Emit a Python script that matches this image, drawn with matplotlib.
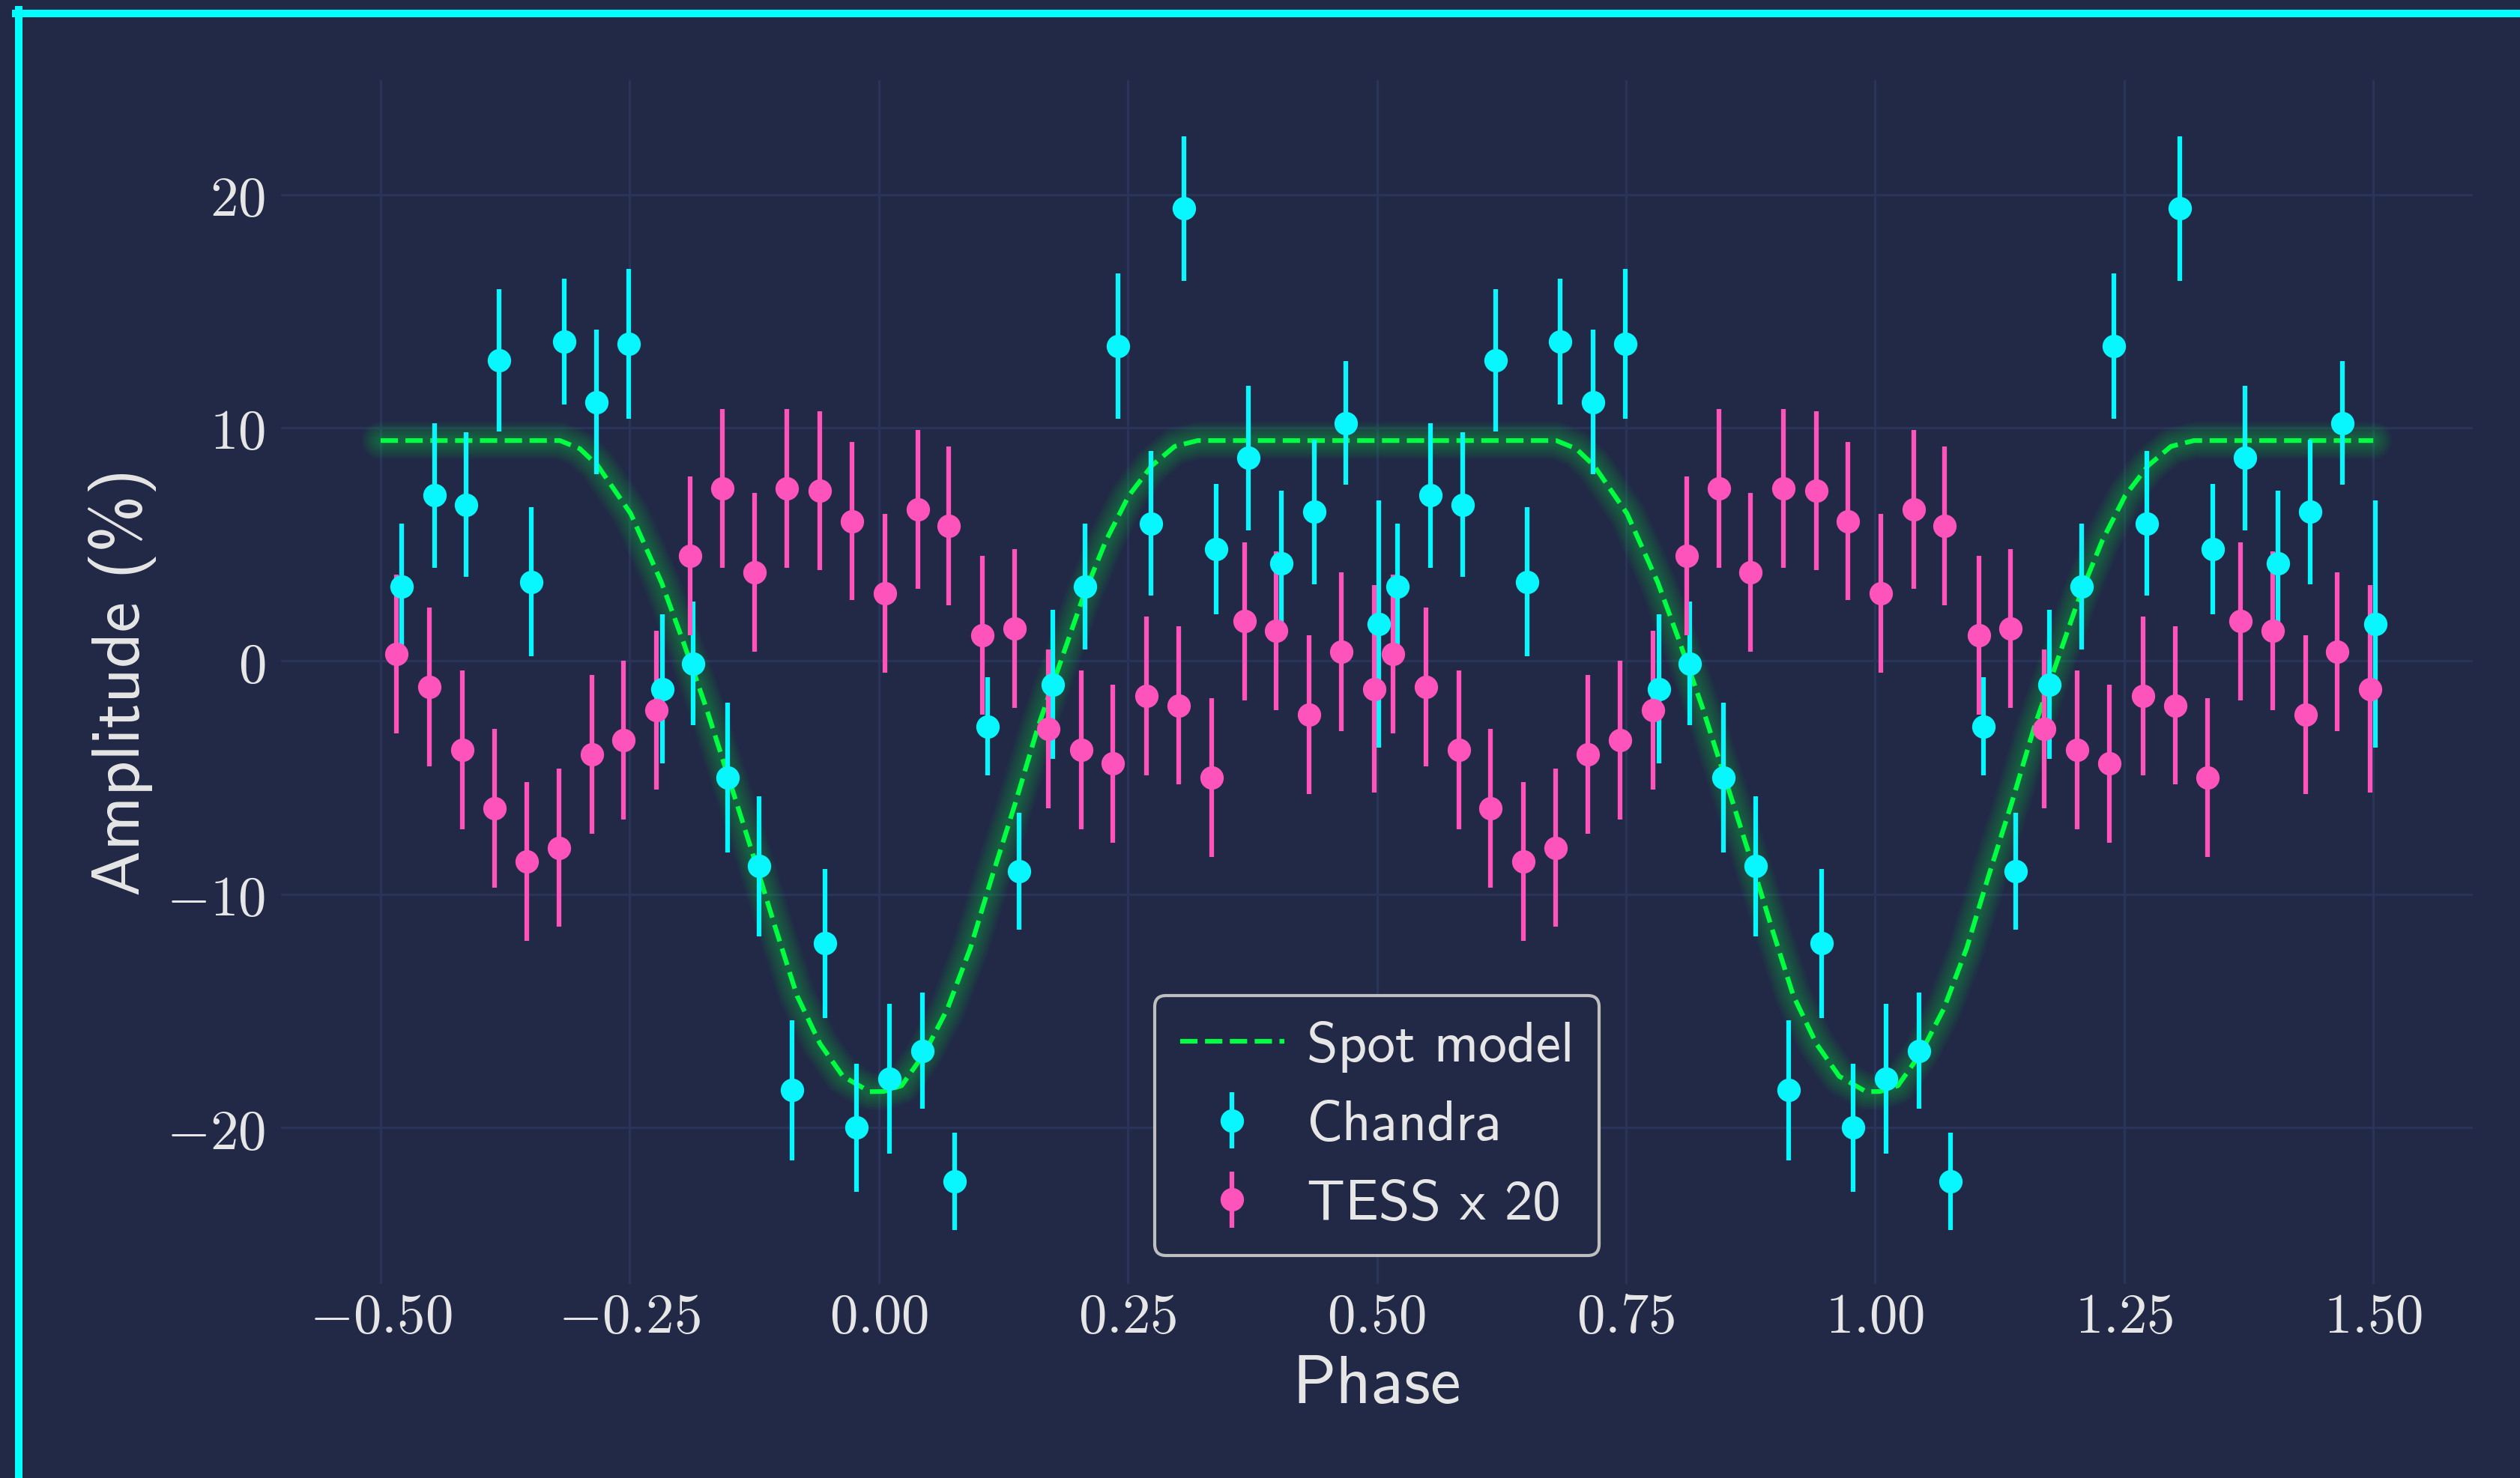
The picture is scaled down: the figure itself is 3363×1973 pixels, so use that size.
import numpy as np
import matplotlib
matplotlib.use('Agg')
import matplotlib.pyplot as plt
from matplotlib.lines import Line2D
from matplotlib.ticker import FixedLocator, FuncFormatter

# ─── data (one rotation, phase -0.5 .. 0.5; drawn twice, shifted by +1) ───

chandra_phase = [-0.479, -0.446, -0.414, -0.381, -0.349, -0.316, -0.283, -0.251,
                 -0.217, -0.186, -0.152, -0.120, -0.087, -0.054, -0.022, 0.011,
                 0.044, 0.076, 0.109, 0.141, 0.175, 0.207, 0.240, 0.273, 0.306,
                 0.339, 0.371, 0.404, 0.437, 0.469, 0.502]
chandra_amp = [3.2, 7.1, 6.7, 12.9, 3.4, 13.7, 11.1, 13.6,
               -1.2, -0.1, -5.0, -8.8, -18.4, -12.1, -20.0, -17.9,
               -16.7, -22.3, -2.8, -9.0, -1.0, 3.2, 13.5, 5.9, 19.4,
               4.8, 8.7, 4.2, 6.4, 10.2, 1.6]
chandra_err = [2.7, 3.1, 3.1, 3.05, 3.2, 2.7, 3.1, 3.2,
               3.2, 2.65, 3.2, 3.0, 3.0, 3.2, 2.75, 3.2,
               2.5, 2.1, 2.1, 2.5, 3.2, 2.7, 3.1, 3.1, 3.1,
               2.8, 3.1, 3.1, 3.1, 2.65, 5.3]

tess_phase = [-0.484, -0.451, -0.418, -0.386, -0.353, -0.321, -0.288, -0.256,
              -0.223, -0.189, -0.157, -0.125, -0.092, -0.059, -0.027, 0.006,
              0.039, 0.070, 0.104, 0.136, 0.170, 0.203, 0.235, 0.269, 0.301,
              0.334, 0.367, 0.399, 0.432, 0.464, 0.497]
tess_amp = [0.3, -1.1, -3.8, -6.3, -8.6, -8.0, -4.0, -3.4,
            -2.1, 4.5, 7.4, 3.8, 7.4, 7.3, 6.0, 2.9,
            6.5, 5.8, 1.1, 1.4, -2.9, -3.8, -4.4, -1.5, -1.9,
            -5.0, 1.7, 1.3, -2.3, 0.4, -1.2]
tess_err = [3.4] * 30 + [4.45]

model_phase = [-0.50, -0.32, -0.30, -0.282, -0.249, -0.218, -0.196, -0.173,
               -0.150, -0.127, -0.104, -0.082, -0.059, -0.036, -0.009, 0.005,
               0.023, 0.046, 0.069, 0.092, 0.114, 0.137, 0.160, 0.183, 0.206,
               0.228, 0.251, 0.274, 0.297, 0.320, 0.50]
model_amp = [9.45, 9.45, 9.1, 8.37, 6.32, 3.36, 0.8, -2.03,
             -5.1, -8.2, -11.4, -14.35, -16.4, -17.8, -18.46, -18.45,
             -18.2, -16.8, -14.9, -12.3, -9.2, -6.1, -2.8, 0.03, 2.85,
             5.16, 7.09, 8.37, 9.2, 9.45, 9.45]

x_ticks = [-0.5, -0.25, 0.0, 0.25, 0.5, 0.75, 1.0, 1.25, 1.5]
y_ticks = [-20, -10, 0, 10, 20]


def two_cycles(phase, vals):
    p = np.asarray(phase)
    v = np.asarray(vals)
    return np.concatenate([p, p + 1]), np.concatenate([v, v])


# ─── style ───
BG = '#212946'
GRID = '#2A3459'
CYAN = '#08F7FE'
PINK = '#FE53BB'
GREEN = '#00ff41'
TXT = '0.9'
SANS = 'cmss10'   # Computer Modern Sans, ships with matplotlib

plt.rcParams['mathtext.fontset'] = 'cm'

fig = plt.figure(figsize=(3363 / 300, 1973 / 300), dpi=300, facecolor=BG)
ax = fig.add_axes([0.1115, 0.1313, 0.8698, 0.8145], facecolor=BG)

# spot model + glow
mx, my = two_cycles(model_phase, model_amp)
for n in range(1, 11):
    ax.plot(mx, my, color=GREEN, lw=1.5 + 1.05 * n, alpha=0.03,
            solid_capstyle='round', zorder=1.5)
ln_model, = ax.plot(mx, my, '--', color=GREEN, lw=1.5, zorder=2)

# data
cx, cy = two_cycles(chandra_phase, chandra_amp)
_, ce = two_cycles(chandra_phase, chandra_err)
tx, ty = two_cycles(tess_phase, tess_amp)
_, te = two_cycles(tess_phase, tess_err)

eb_c = ax.errorbar(cx, cy, yerr=ce, fmt='o', color=CYAN, ms=6.5,
                   elinewidth=1.5, capsize=0, zorder=3)
eb_t = ax.errorbar(tx, ty, yerr=te, fmt='o', color=PINK, ms=6.5,
                   elinewidth=1.5, capsize=0, zorder=3)

ax.set_xlim(-0.6, 1.6)
ax.set_ylim(-26.7, 24.9)

ax.xaxis.set_major_locator(FixedLocator(x_ticks))
ax.yaxis.set_major_locator(FixedLocator(y_ticks))
ax.xaxis.set_major_formatter(FuncFormatter(lambda v, p: r'$%.2f$' % v))
ax.yaxis.set_major_formatter(FuncFormatter(lambda v, p: r'$%d$' % v))
ax.tick_params(length=0, labelsize=18, labelcolor=TXT)
ax.tick_params(axis='x', pad=2)
ax.tick_params(axis='y', pad=5)

ax.grid(True, color=GRID, lw=0.8)
ax.set_axisbelow(True)
for s in ax.spines.values():
    s.set_visible(False)

ax.set_xlabel('Phase', family=SANS, fontsize=22, color=TXT, labelpad=3.5)
ax.set_ylabel('Amplitude (%)', family=SANS, fontsize=22, color=TXT, labelpad=3)

leg = ax.legend([ln_model, eb_c, eb_t], ['Spot model', 'Chandra', 'TESS x 20'],
                loc='lower center', prop={'family': SANS, 'size': 18},
                facecolor=BG, framealpha=1, edgecolor='0.75', labelcolor=TXT,
                handlelength=1.85, handletextpad=0.4, labelspacing=0.5,
                borderpad=0.45)
leg.get_frame().set_linewidth(1.0)

# cyan frame (top and left edges visible)
fig.add_artist(Line2D([21 / 3363, 1.0], [1 - 18 / 1973, 1 - 18 / 1973],
                      transform=fig.transFigure, color='#00FFFF', lw=2.4))
fig.add_artist(Line2D([24.5 / 3363, 24.5 / 3363], [0.0, 1 - 13 / 1973],
                      transform=fig.transFigure, color='#00FFFF', lw=2.4))

fig.savefig('out.png', dpi=300, facecolor=BG)
print("saved out.png")
